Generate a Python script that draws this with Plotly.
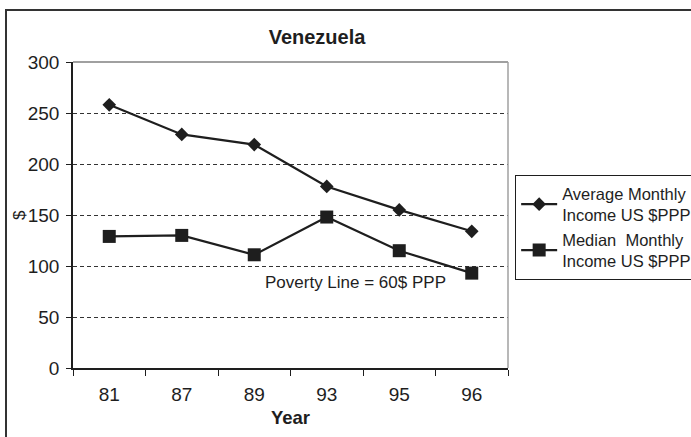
import plotly.graph_objects as go

# Venezuela monthly income series (US $PPP)
years = ["81", "87", "89", "93", "95", "96"]
average_income = [258, 229, 219, 178, 155, 134]
median_income = [129, 130, 111, 148, 115, 93]
y_ticks = [0, 50, 100, 150, 200, 250, 300]
grid_ticks = [50, 100, 150, 200, 250]

FONT = "Liberation Sans, Arial, sans-serif"
INK = "#1e1e1e"

fig = go.Figure()
fig.add_trace(go.Scatter(
    x=years, y=average_income, mode="lines+markers",
    name="Average Monthly<br>Income US $PPP",
    line=dict(color=INK, width=2.2),
    marker=dict(symbol="diamond", size=10.5, color=INK),
))
fig.add_trace(go.Scatter(
    x=years, y=median_income, mode="lines+markers",
    name="Median  Monthly<br>Income US $PPP",
    line=dict(color=INK, width=2.2),
    marker=dict(symbol="square", size=13, color=INK),
))
# invisible helper trace carrying the dashed grid on a twin axis
fig.add_trace(go.Scatter(x=years, y=[None] * len(years), yaxis="y2",
                         showlegend=False, hoverinfo="skip"))

fig.update_layout(
    width=691, height=437,
    margin=dict(l=73, r=183, t=62, b=69, autoexpand=False),
    paper_bgcolor="white", plot_bgcolor="white",
    font=dict(family=FONT, color=INK, size=19),
    title=dict(text="<b>Venezuela</b>", font=dict(size=20, color=INK),
               xref="paper", x=0.561, xanchor="center",
               yref="container", y=1 - 37 / 437, yanchor="middle"),
    xaxis=dict(
        type="category", range=[-0.5, 5.5],
        showline=True, linecolor=INK, linewidth=1.5,
        ticks="outside", tickson="boundaries", ticklen=6, tickcolor=INK,
        showgrid=False, tickfont=dict(size=19), ticklabelstandoff=8,
        title=dict(text="<b>Year</b>", font=dict(size=18.5), standoff=8),
    ),
    yaxis=dict(
        range=[0, 300], tickvals=y_ticks,
        showline=True, linecolor=INK, linewidth=1.5,
        ticks="outside", ticklen=5, tickcolor=INK,
        showgrid=False, zeroline=False, tickfont=dict(size=19),
        ticklabelstandoff=3,
    ),
    yaxis2=dict(
        overlaying="y", range=[0, 300], tickvals=grid_ticks,
        showticklabels=False, showgrid=True, gridcolor="#333333",
        griddash="4px,3px", gridwidth=1, zeroline=False, showline=False,
    ),
    legend=dict(
        x=1.016, xanchor="left", y=(368 - 175) / 306, yanchor="top",
        bordercolor=INK, borderwidth=1.2, bgcolor="white",
        font=dict(size=16.5, color=INK), tracegroupgap=0,
        itemwidth=36,
    ),
    showlegend=True,
)

# plot frame top/right in light gray, outer figure border in dark gray
fig.add_shape(type="line", xref="paper", yref="paper", x0=0, x1=1, y0=1, y1=1,
              line=dict(color="#a0a0a0", width=2))
fig.add_shape(type="line", xref="paper", yref="paper", x0=1, x1=1, y0=0, y1=1,
              line=dict(color="#a0a0a0", width=1.5))
fig.add_shape(type="rect", xref="paper", yref="paper",
              x0=(6 - 73) / 435, x1=(705 - 73) / 435,
              y0=(368 - 450) / 306, y1=(368 - 10) / 306,
              line=dict(color="#333333", width=2), fillcolor="rgba(0,0,0,0)",
              layer="below")

fig.add_annotation(text="$", xref="paper", yref="y", x=(19 - 73) / 435, y=150,
                   xanchor="center", yanchor="middle",
                   textangle=-90, showarrow=False, font=dict(size=17, color=INK))
fig.add_annotation(text="Poverty Line = 60$ PPP", xref="x", yref="y",
                   x=2.12, y=84, xanchor="left", showarrow=False,
                   font=dict(size=17, color=INK))

fig.write_html("out.html")
